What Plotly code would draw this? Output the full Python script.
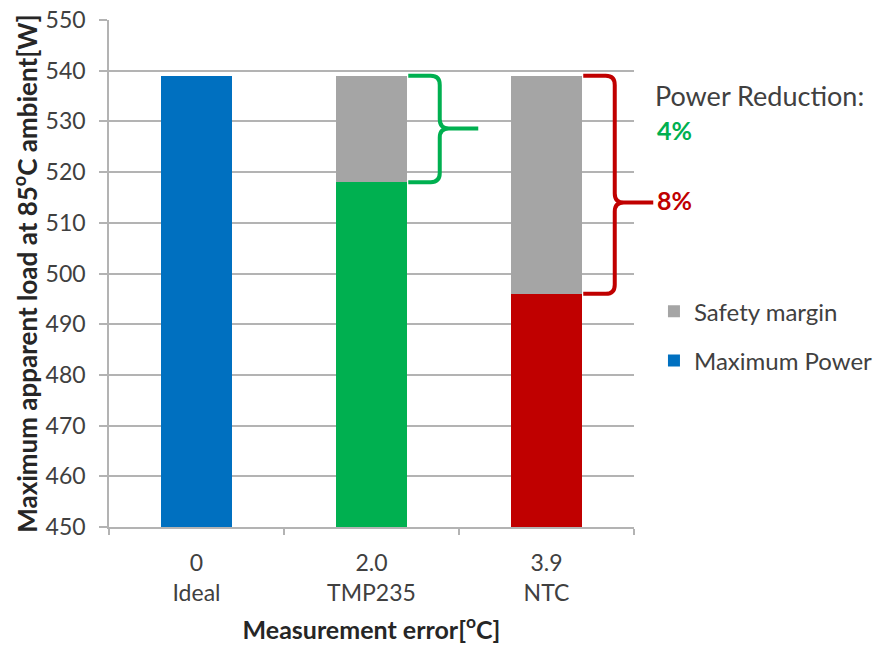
import plotly.graph_objects as go

categories = ["0<br>Ideal", "2.0<br>TMP235", "3.9<br>NTC"]
max_power = [539, 518, 496]
safety_margin = [0, 21, 43]
bar_colors = ["#0070c0", "#00b050", "#c00000"]
reduction_labels = ["", "4%", "8%"]
brace_tip_y = [None, 528.6, 514.0]

FONT = "Lato"
GRID = "#b3b3b3"

fig = go.Figure()
fig.add_trace(go.Bar(
    x=categories, y=max_power, name="Maximum Power",
    marker=dict(color=bar_colors, line=dict(width=0)),
    legendgroup="a", legendrank=2,
))
fig.add_trace(go.Bar(
    x=categories, y=safety_margin, name="Safety margin",
    marker=dict(color="#a5a5a5", line=dict(width=0)),
    legendgroup="b", legendrank=1,
))

def to_paper(u):
    return (u + 0.5) / 3.0

rx = 9 / 525.0
ry = 1.8
shapes = []
annotations = []
for i in (1, 2):
    col = bar_colors[i]
    ybot = max_power[i]
    ytop = max_power[i] + safety_margin[i]
    ytip = brace_tip_y[i]
    x0 = to_paper(i + 0.21)
    xv = to_paper(i + 0.39)
    xt = to_paper(i + 0.61)
    xm = xv + rx
    path = (f"M{x0},{ytop} L{xv - rx},{ytop} Q{xv},{ytop} {xv},{ytop - ry} "
            f"L{xv},{ytip + ry} Q{xv},{ytip} {xm},{ytip} L{xt},{ytip} "
            f"M{xm},{ytip} Q{xv},{ytip} {xv},{ytip - ry} "
            f"L{xv},{ybot + ry} Q{xv},{ybot} {xv - rx},{ybot} L{x0},{ybot}")
    shapes.append(dict(type="path", xref="paper", yref="y", path=path,
                       line=dict(color=col, width=4), layer="above"))

annotations.append(dict(text="Power Reduction:", xref="paper", yref="y",
                        x=1.036, y=535.2, xanchor="left", yanchor="middle",
                        showarrow=False, font=dict(family=FONT, size=27, color="#404040")))
annotations.append(dict(text="<b>" + reduction_labels[1] + "</b>", xref="paper", yref="y",
                        x=1.04, y=528.3, xanchor="left", yanchor="middle",
                        showarrow=False, font=dict(family=FONT, size=25, color=bar_colors[1])))
annotations.append(dict(text="<b>" + reduction_labels[2] + "</b>", xref="paper", yref="y",
                        x=1.04, y=514.4, xanchor="left", yanchor="middle",
                        showarrow=False, font=dict(family=FONT, size=25, color=bar_colors[2])))

fig.update_layout(
    width=876, height=639,
    margin=dict(l=101, r=250, t=12, b=120, autoexpand=False),
    paper_bgcolor="white", plot_bgcolor="white",
    barmode="stack", bargap=0.59,
    font=dict(family=FONT, size=23, color="#404040"),
    shapes=shapes, annotations=annotations,
    legend=dict(
        xref="container", yref="container",
        x=0.7374, y=0.560, xanchor="left", yanchor="top",
        traceorder="grouped", tracegroupgap=15,
        font=dict(family=FONT, size=24, color="#404040"),
        bgcolor="rgba(0,0,0,0)",
    ),
    xaxis=dict(
        title=dict(text="<b>Measurement error[<sup>o</sup>C]</b>", font=dict(family=FONT, size=25, color="#262626"), standoff=16),
        automargin=False,
        showline=True, linecolor=GRID, linewidth=1.5,
        ticks="outside", tickson="boundaries", ticklen=6, tickcolor=GRID, tickwidth=1.5,
        tickfont=dict(family=FONT, size=23, color="#404040"),
        ticklabelstandoff=15,
        showgrid=False,
    ),
    yaxis=dict(
        title=dict(text="<b>Maximum apparent load at 85<sup>o</sup>C ambient[W]</b>", font=dict(family=FONT, size=26, color="#262626"), standoff=16),
        automargin=False,
        range=[450, 550], dtick=10, tick0=450,
        showline=True, linecolor=GRID, linewidth=1.5,
        ticks="outside", ticklen=8, tickcolor=GRID, tickwidth=1.5,
        ticklabelstandoff=9, ticklabeloverflow="allow",
        showgrid=True, gridcolor=GRID, gridwidth=1.5,
        tickfont=dict(family=FONT, size=23, color="#404040"),
        zeroline=False,
    ),
)

fig.write_html("out.html")
